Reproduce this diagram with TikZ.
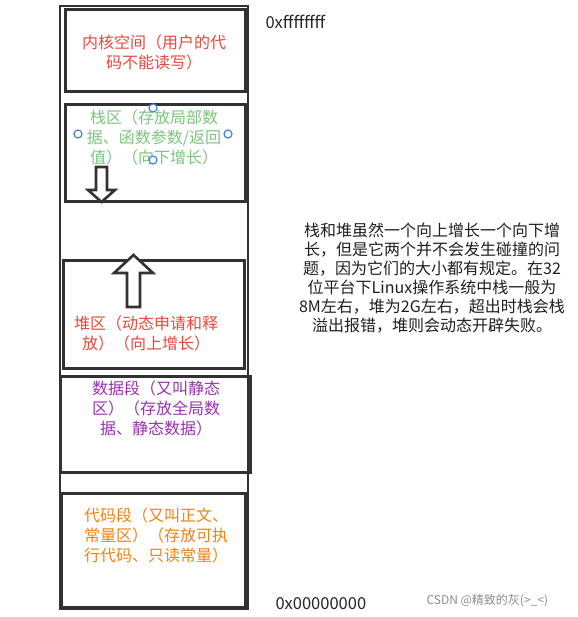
\documentclass[tikz,border=0pt]{standalone}
\usepackage{fontspec}
\setmainfont{Noto Sans CJK SC}
\usepackage{tikz}
\usetikzlibrary{
    arrows.meta,    % 箭头样式
    calc            % 坐标计算
}

\definecolor{kred}{RGB}{232,72,60}
\definecolor{kgreen}{RGB}{125,196,125}
\definecolor{kpurple}{RGB}{155,48,176}
\definecolor{korange}{RGB}{240,130,20}
\definecolor{kblue}{RGB}{70,130,230}
\definecolor{kline}{RGB}{50,50,50}

\begin{document}
\begin{tikzpicture}[
    >=stealth,
    x=1pt, y=-1pt,
    box/.style={draw=kline, line width=3pt},
    blockarrow/.style={draw=kline, fill=white, line width=2.6pt, line join=miter},
    region/.style={align=center, font=\fontsize{16}{20}\selectfont},
    addr/.style={anchor=west, text=black!85, font=\fontsize{16.5}{20}\selectfont},
    handle/.style={draw=kblue, fill=white, line width=1.2pt}
]
    \useasboundingbox (0,0) rectangle (577,617);

    % 外框
    \draw[draw=kline, line width=2.2pt] (60,6) rectangle (248,609);

    % 各区域方框
    \draw[box] (65,10) rectangle (245,92);
    \draw[box] (65,105) rectangle (245,202);
    \draw[box] (63,260) rectangle (244,368);
    \draw[box] (60,376) rectangle (250,472);
    \draw[box] (61,493) rectangle (245,607);

    % 向下箭头（栈）
    \draw[blockarrow] (96,167) -- (107,167) -- (107,190) -- (115,190)
        -- (101.5,202) -- (88,190) -- (96,190) -- cycle;
    % 向上箭头（堆）
    \draw[blockarrow] (127,307) -- (140,307) -- (140,273) -- (153,273)
        -- (133.5,255) -- (114,273) -- (127,273) -- cycle;

    % 区域文字
    \node[region, text=kred] (kernel) at (154,52) {内核空间（用户的代\\码不能读写）};
    \node[region, text=kgreen] (stack) at (154,137) {栈区（存放局部数\\据、函数参数/返回\\值）（向下增长）};
    \node[region, text=kred] (heap) at (146,333) {堆区（动态申请和释\\放）（向上增长）};
    \node[region, text=kpurple] (data) at (156,408) {数据段（又叫静态\\区）（存放全局数\\据、静态数据）};
    \node[region, text=korange] (code) at (156,535) {代码段（又叫正文、\\常量区）（存放可执\\行代码、只读常量）};

    % 选择框的控制点
    \draw[handle] (153,108) circle (4);
    \draw[handle] (78,134) circle (4);
    \draw[handle] (228,134) circle (4);
    \draw[handle] (153,160) circle (4);

    % 地址
    \node[addr] (highaddr) at (262,22) {0xffffffff};
    \node[addr] (lowaddr) at (272,604) {0x00000000};

    % 说明
    \node[align=center, text=black!88, font=\fontsize{16}{19}\selectfont] (note) at (432,278)
        {栈和堆虽然一个向上增长一个向下增\\长，但是它两个并不会发生碰撞的问\\题，因为它们的大小都有规定。在32\\位平台下Linux操作系统中栈一般为\\8M左右，堆为2G左右，超出时栈会栈\\溢出报错，堆则会动态开辟失败。};

    % 水印
    \node[anchor=west, text=black!45, font=\fontsize{12}{14}\selectfont] (mark) at (423,601) {CSDN @精致的灰(>\_<)};
\end{tikzpicture}
\end{document}
